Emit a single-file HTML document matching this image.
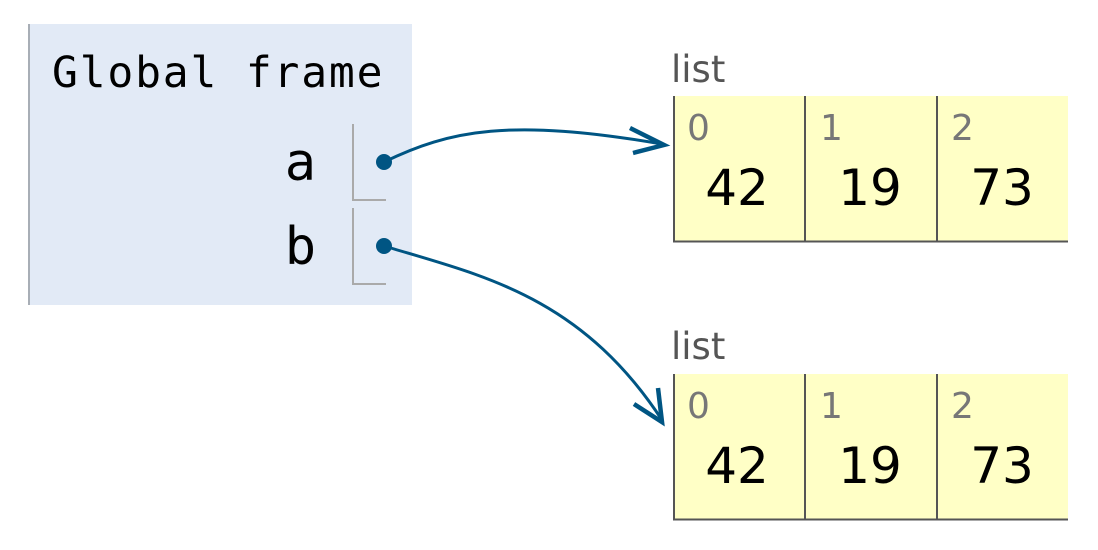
<!DOCTYPE html>
<html><head><meta charset="utf-8"><style>
html,body{margin:0;padding:0;background:#fff;width:1098px;height:550px;overflow:hidden}
</style></head><body>
<svg width="1098" height="550" viewBox="0 0 1098 550" xmlns="http://www.w3.org/2000/svg">
<g>
<rect x="28" y="24" width="384" height="281" fill="#e2eaf6"/>
<rect x="28" y="24" width="2" height="281" fill="#a8aeb6"/>
<text x="52" y="87" font-family="'DejaVu Sans Mono','Liberation Mono',monospace" font-size="43" letter-spacing="1.8" fill="#000">Global frame</text>
<text x="316" y="180" text-anchor="end" font-family="'DejaVu Sans Mono','Liberation Mono',monospace" font-size="52" fill="#000">a</text>
<text x="316" y="264" text-anchor="end" font-family="'DejaVu Sans Mono','Liberation Mono',monospace" font-size="52" fill="#000">b</text>
<path d="M353 124 V200 H386" fill="none" stroke="#aaa" stroke-width="2"/>
<path d="M353 208 V284 H386" fill="none" stroke="#aaa" stroke-width="2"/>
</g>
<g>
<text x="671" y="82" font-family="Verdana,'DejaVu Sans',sans-serif" font-size="37" fill="#555">list</text>
<rect x="673" y="96" width="395" height="146" fill="#ffffc6"/>
<path d="M674 96 V242 M805 96 V242 M937 96 V242 M673 241.5 H1068" stroke="#555" stroke-width="2" fill="none"/>
<g font-family="Verdana,'DejaVu Sans',sans-serif" font-size="36" fill="#777">
<text x="687" y="140">0</text>
<text x="820" y="140">1</text>
<text x="951" y="140">2</text>
</g>
<g font-family="Verdana,'DejaVu Sans',sans-serif" font-size="50" fill="#000" text-anchor="middle">
<text x="737" y="205">42</text>
<text x="870" y="205">19</text>
<text x="1002" y="205">73</text>
</g>
</g>
<g>
<text x="671" y="359" font-family="Verdana,'DejaVu Sans',sans-serif" font-size="37" fill="#555">list</text>
<rect x="673" y="374" width="395" height="146" fill="#ffffc6"/>
<path d="M674 374 V520 M805 374 V520 M937 374 V520 M673 519.5 H1068" stroke="#555" stroke-width="2" fill="none"/>
<g font-family="Verdana,'DejaVu Sans',sans-serif" font-size="36" fill="#777">
<text x="687" y="418">0</text>
<text x="820" y="418">1</text>
<text x="951" y="418">2</text>
</g>
<g font-family="Verdana,'DejaVu Sans',sans-serif" font-size="50" fill="#000" text-anchor="middle">
<text x="737" y="483">42</text>
<text x="870" y="483">19</text>
<text x="1002" y="483">73</text>
</g>
</g>
<g stroke="#005583" fill="none" stroke-width="3">
<path d="M384 162 C450 130,510 118,662 144"/>
<path d="M630 128 L664 145 L633 153" stroke-width="4.5"/>
<path d="M384 246 C480 275,580 295,662 420"/>
<path d="M634 404 L662 422 L658 388" stroke-width="4.5"/>
</g>
<circle cx="384" cy="162" r="8" fill="#005583"/>
<circle cx="384" cy="246" r="8" fill="#005583"/>
</svg>
</body></html>
